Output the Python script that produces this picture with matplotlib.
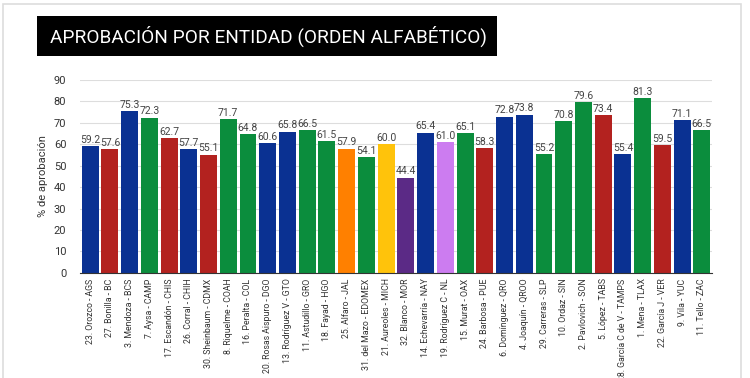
import matplotlib.pyplot as plt
from matplotlib.patches import Rectangle

plt.rcParams.update({
    "font.family": ["Roboto", "DejaVu Sans"],
})

# Data
labels = [
    "23. Orozco - AGS", "27. Bonilla - BC", "3. Mendoza - BCS", "7. Aysa - CAMP",
    "17. Escandón - CHIS", "26. Corral - CHIH", "30. Sheinbaum - CDMX", "8. Riquelme - COAH",
    "16. Peralta - COL", "20. Rosas Aispuro - DGO", "13. Rodríguez V - GTO", "11. Astudillo - GRO",
    "18. Fayad - HGO", "25. Alfaro - JAL", "31. del Mazo - EDOMEX", "21. Aureoles - MICH",
    "32. Blanco - MOR", "14. Echevarría - NAY", "19. Rodríguez C - NL", "15. Murat - OAX",
    "24. Barbosa - PUE", "6. Domínguez - QRO", "4. Joaquín - QROO", "29. Carreras - SLP",
    "10. Ordaz - SIN", "2. Pavlovich - SON", "5. López - TABS", "28. García C de V - TAMPS",
    "1. Mena - TLAX", "22. García J - VER", "9. Vila - YUC", "11. Tello - ZAC",
]
values = [
    59.2, 57.6, 75.3, 72.3, 62.7, 57.7, 55.1, 71.7,
    64.8, 60.6, 65.8, 66.5, 61.5, 57.9, 54.1, 60.0,
    44.4, 65.4, 61.0, 65.1, 58.3, 72.8, 73.8, 55.2,
    70.8, 79.6, 73.4, 55.4, 81.3, 59.5, 71.1, 66.5,
]
parties = [
    "PAN", "MORENA", "PAN", "PRI", "MORENA", "PAN", "MORENA", "PRI",
    "PRI", "PAN", "PAN", "PRI", "PRI", "MC", "PRI", "PRD",
    "PES", "PAN", "IND", "PRI", "MORENA", "PAN", "PAN", "PRI",
    "PRI", "PRI", "MORENA", "PAN", "PRI", "MORENA", "PAN", "PRI",
]
party_colors = {
    "PAN": "#0a3192",
    "MORENA": "#b3221f",
    "PRI": "#0b8d3d",
    "MC": "#ff8000",
    "PRD": "#ffc30b",
    "PES": "#5b2a86",
    "IND": "#cc7cf0",
}

fig = plt.figure(figsize=(7.5, 3.78), dpi=100)
ax = fig.add_axes([0.107, 0.278, 0.842, 0.511])

x = range(len(labels))
colors = [party_colors[p] for p in parties]
bars = ax.bar(x, values, width=0.86, color=colors, zorder=3)

for xi, v in zip(x, values):
    ax.text(xi, v + 0.6, f"{v:.1f}", ha="center", va="bottom", fontsize=7.5, color="#444444")

ax.set_ylim(0, 90)
ax.set_yticks(range(0, 91, 10))
ax.set_xlim(-0.5, len(labels) - 0.5)
ax.set_xticks(list(x))
ax.set_xticklabels(labels, rotation=90, fontsize=6.3, color="#333333")
ax.tick_params(axis="y", labelsize=8, colors="#333333", length=0, pad=10)
ax.tick_params(axis="x", length=0, pad=4)
ax.grid(axis="y", color="#dddddd", linewidth=0.8, zorder=0)
ax.set_ylabel("% de aprobación", fontsize=8, color="#333333")

for s in ["top", "right", "left"]:
    ax.spines[s].set_visible(False)
ax.spines["bottom"].set_color("#333333")
ax.spines["bottom"].set_zorder(4)

# Title banner
fig.patches.append(Rectangle((37 / 750, 1 - 56 / 378), 460 / 750, 40 / 378,
                             transform=fig.transFigure, facecolor="black", edgecolor="none"))
fig.text(50 / 750, 1 - 36 / 378, "APROBACIÓN POR ENTIDAD (ORDEN ALFABÉTICO)",
         color="white", fontsize=13.7, va="center", ha="left")

# light frame around the picture
fig.patches.append(Rectangle((3 / 750, -0.01), 738 / 750, 1.0, transform=fig.transFigure,
                             facecolor="none", edgecolor="#dddddd", linewidth=1.2))

fig.savefig("out.png", dpi=100)
